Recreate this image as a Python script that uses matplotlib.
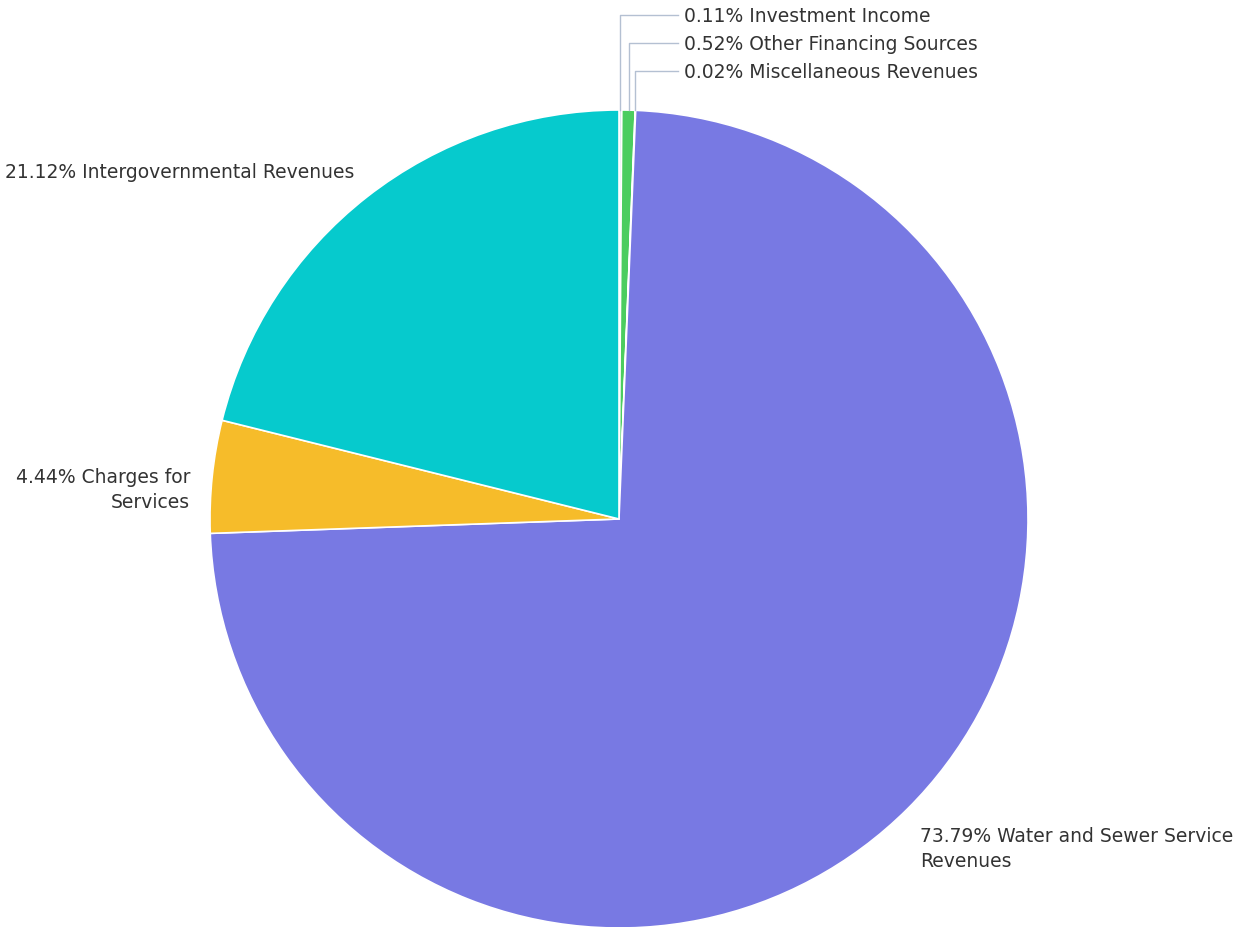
import numpy as np
import matplotlib.pyplot as plt

# 收入构成
labels = ['Investment Income', 'Other Financing Sources', 'Miscellaneous Revenues',
          'Water and Sewer Service Revenues', 'Charges for Services',
          'Intergovernmental Revenues']
values = [0.11, 0.52, 0.02, 73.79, 4.44, 21.12]
colors = ['#dfe6ee', '#4bcd5f', '#e8d84a', '#7879e3', '#f6bc2a', '#06cacd']

fig = plt.figure(figsize=(12.44, 9.28), dpi=100)
ax = fig.add_axes([0, 0, 1, 1])

cx, cy, r = 619, 928 - 520, 409
wedges, _ = ax.pie(values, colors=colors, startangle=90, counterclock=False,
                   center=(cx, cy), radius=r, frame=True,
                   wedgeprops=dict(edgecolor='white', linewidth=1.2))
ax.set_xlim(0, 1244)
ax.set_ylim(0, 928)
ax.axis('off')

txt = dict(fontsize=13.5, color='#333333', family='DejaVu Sans')

# 小扇区的引线
label_y = [928 - 16, 928 - 44, 928 - 72]
for i in range(3):
    w = wedges[i]
    mid = np.deg2rad((w.theta1 + w.theta2) / 2)
    x0 = cx + r * np.cos(mid)
    y0 = cy + r * np.sin(mid)
    ax.plot([x0, x0, 678], [y0, label_y[i], label_y[i]], color='#b4c0d2', lw=1)
    ax.text(684, label_y[i], '%.2f%% %s' % (values[i], labels[i]),
            ha='left', va='center', **txt)

ax.text(920, 928 - 849, '%.2f%% Water and Sewer Service\nRevenues' % values[3],
        ha='left', va='center', linespacing=1.42, **txt)
ax.text(190, 928 - 490, '%.2f%% Charges for\nServices' % values[4],
        ha='right', va='center', multialignment='right', linespacing=1.42, **txt)
ax.text(5, 928 - 172, '%.2f%% %s' % (values[5], labels[5]),
        ha='left', va='center', **txt)

plt.savefig('out.png', dpi=100)
